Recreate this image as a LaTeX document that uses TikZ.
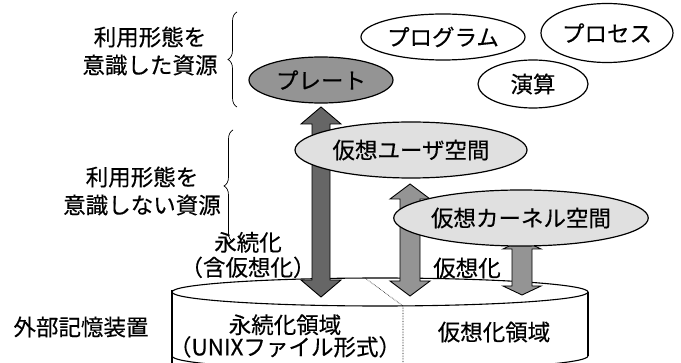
\documentclass[tikz,border=0pt]{standalone}
\usepackage{fontspec}
\setmainfont{Noto Sans CJK JP}[FakeBold=0.35]
\usetikzlibrary{decorations.pathreplacing,calc,shapes.geometric}
\newcommand\fatarrow[6]{% style, top, bottom, shaft half, head half, head length
  \draw[#1] let \p1=(#2), \p2=(#3) in
   (\x1,\y1) -- (\x1+#5pt,\y1-#6pt) -- (\x1+#4pt,\y1-#6pt) -- (\x1+#4pt,\y2+#6pt)
   -- (\x1+#5pt,\y2+#6pt) -- (\x1,\y2) -- (\x1-#5pt,\y2+#6pt) -- (\x1-#4pt,\y2+#6pt)
   -- (\x1-#4pt,\y1-#6pt) -- (\x1-#5pt,\y1-#6pt) -- cycle;}
\begin{document}
\begin{tikzpicture}[x=1pt,y=1pt,
  lbl/.style={font=\fontsize{22.5}{28}\selectfont, align=center, inner sep=0pt},
  oval/.style={draw, line width=1.2pt, ellipse, inner sep=0pt, font=\fontsize{22.5}{26}\selectfont},
  brc/.style={decorate, decoration={brace, amplitude=9pt}, line width=0.7pt},
  darkarrow/.style={draw, line width=0.9pt, fill=black!60},
  midarrow/.style={draw, line width=0.9pt, fill=black!42},
  cyl/.style={line width=1.1pt}]
\clip (0,0) rectangle (681,362);
\fill[white] (0,0) rectangle (681,362);

% cylinder (external storage)
\draw[cyl] (172,72) -- (172,-2);
\draw[cyl] (588,70) -- (588,6);
\draw[cyl] (588,6) arc[start angle=0, end angle=-180, x radius=208, y radius=14];
\draw[cyl, fill=white] (380,70) ellipse[x radius=208, y radius=14];
\draw[densely dotted, line width=0.6pt] (365,84) -- (403,56) -- (403,-2);

% arrow end points
\coordinate (a1t) at (321,255);
\coordinate (a1b) at (321,65);
\coordinate (a2t) at (410,178);
\coordinate (a2b) at (410,66);
\coordinate (a3t) at (522,122);
\coordinate (a3b) at (522,67);

\fatarrow{darkarrow}{a1t}{a1b}{9}{20}{17}
\fatarrow{midarrow}{a2t}{a2b}{10}{20}{15}
\fatarrow{midarrow}{a3t}{a3b}{10}{19}{9}

% ellipses
\node[oval, fill=black!42, minimum width=144, minimum height=46] (plate) at (321,282) {プレート};
\node[oval, fill=white, minimum width=164, minimum height=46] (prog) at (443,325) {プログラム};
\node[oval, fill=white, minimum width=132, minimum height=59] (proc) at (607,329) {プロセス};
\node[oval, fill=white, minimum width=110, minimum height=48] (calc) at (533,278) {演算};
\node[oval, fill=black!12, minimum width=232, minimum height=56] (vuser) at (411,212) {仮想ユーザ空間};
\node[oval, fill=black!12, minimum width=248, minimum height=56] (vkern) at (521,144) {仮想カーネル空間};

% braces
\draw[brc] (237,255) -- (237,350);
\draw[brc] (233,120) -- (233,232);

% labels
\node[lbl] (l1) at (150,311) {利用形態を\\意識した資源};
\node[lbl] (l2) at (142,171) {利用形態を\\意識しない資源};
\node[lbl, font=\fontsize{22.5}{25}\selectfont] (perm) at (248,107) {永続化\\（含仮想化）};
\node[lbl] (virt) at (467,94) {仮想化};
\node[lbl] (ext) at (81,35) {外部記憶装置};
\node[lbl, font=\fontsize{22.5}{21}\selectfont] (parea) at (285,26) {永続化領域\\（UNIXファイル形式）};
\node[lbl] (varea) at (494,30) {仮想化領域};
\end{tikzpicture}
\end{document}
